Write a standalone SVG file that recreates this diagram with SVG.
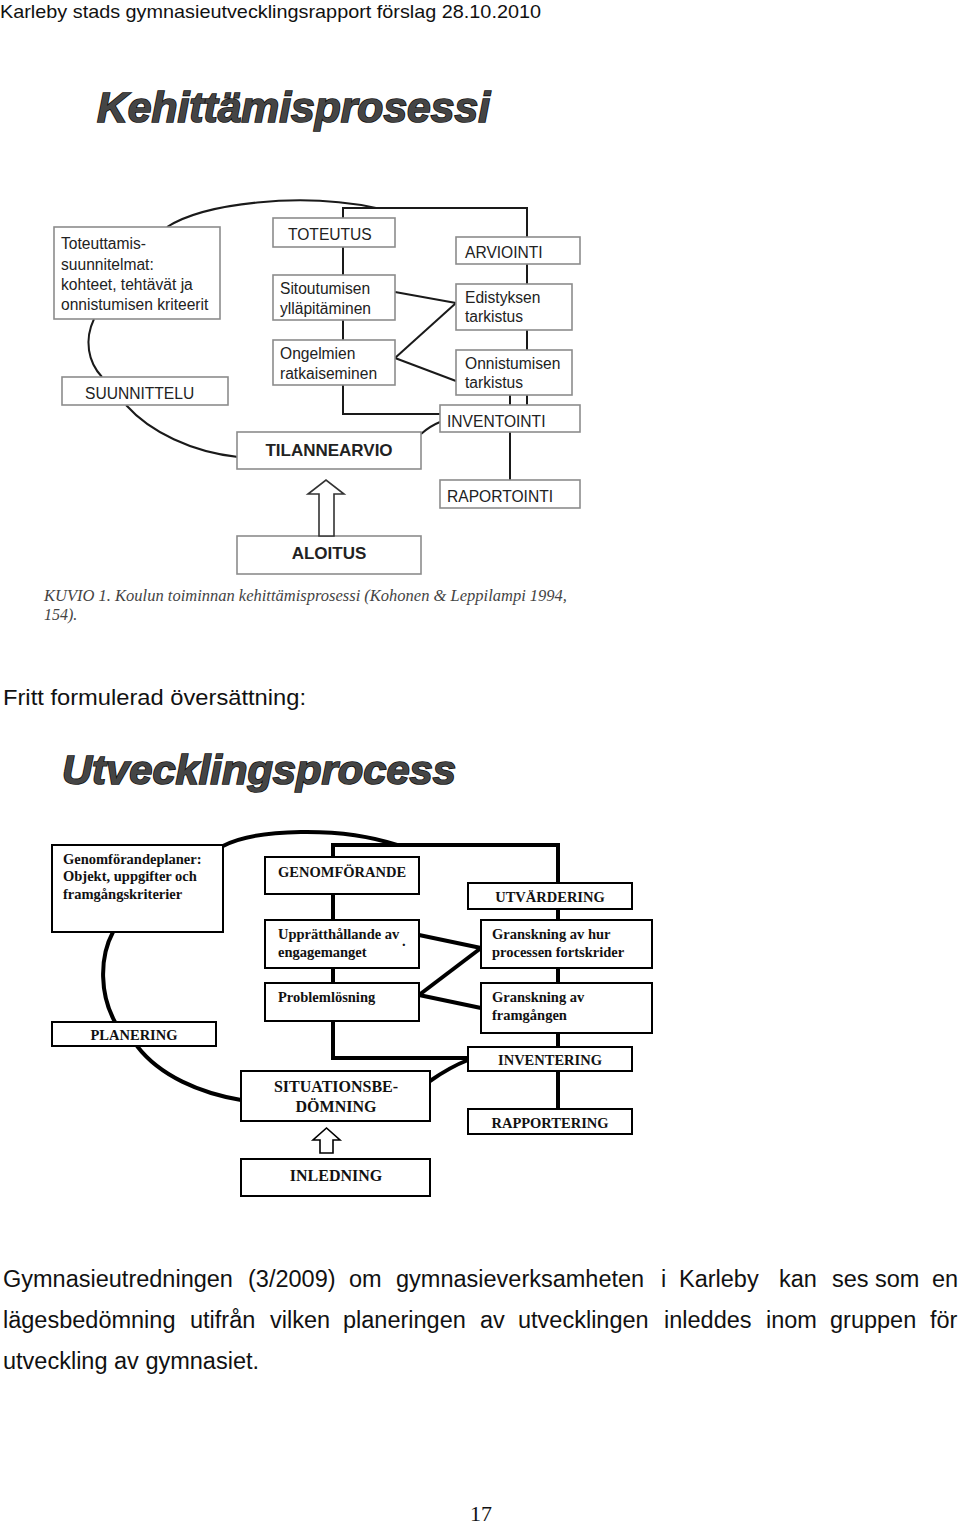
<svg xmlns="http://www.w3.org/2000/svg" width="960" height="1524" viewBox="0 0 960 1524">
<style>
.bg{fill:#fff}
.hdr{font-family:"Liberation Sans",Arial,sans-serif;fill:#111}
.ttl{font-family:"Liberation Sans",Arial,sans-serif;font-weight:bold;font-style:italic;fill:#454545;stroke:#111;stroke-width:1.6px;paint-order:stroke}
.tb{fill:#fff;stroke:#8c8c8c;stroke-width:1.6}
.tt{font-family:"Liberation Sans",Arial,sans-serif;font-size:15.6px;fill:#222}
.ttb{font-family:"Liberation Sans",Arial,sans-serif;font-size:17px;font-weight:bold;fill:#222}
.tl{fill:none;stroke:#1a1a1a;stroke-width:2}
.bb{fill:#fff;stroke:#000;stroke-width:2}
.bt{font-family:"Liberation Serif","Times New Roman",serif;font-weight:bold;font-size:14.5px;fill:#111}
.btl{font-family:"Liberation Serif","Times New Roman",serif;font-weight:bold;font-size:16px;fill:#111}
.bl{fill:none;stroke:#000;stroke-width:4}
.cap{font-family:"Liberation Serif","Times New Roman",serif;font-style:italic;font-size:16px;fill:#444}
.body{font-family:"Liberation Sans",Arial,sans-serif;font-size:23.5px;fill:#111}
</style>
<rect class="bg" x="0" y="0" width="960" height="1524"/>

<text class="hdr" x="0" y="18" font-size="19" textLength="541" lengthAdjust="spacingAndGlyphs">Karleby stads gymnasieutvecklingsrapport förslag 28.10.2010</text>
<text class="ttl" x="97" y="122" font-size="42" textLength="393" lengthAdjust="spacingAndGlyphs">Kehittämisprosessi</text>

<!-- Top diagram connectors -->
<g id="top-connectors">
  <path class="tl" d="M167,227 C205,203 300,192 376,208"/>
  <path class="tl" d="M343,218 L343,208 L527,208 L527,405"/>
  <path class="tl" d="M343,247 L343,414 L440,414"/>
  <path class="tl" d="M510,395 L510,480"/>
  <path class="tl" d="M94,319 C84,340 88,362 102,377"/>
  <path class="tl" d="M126,405 C150,432 192,452 238,457"/>
  <path class="tl" d="M421,434 Q430,426 440,422"/>
  <path class="tl" d="M395,292 L456,303"/>
  <path class="tl" d="M395,358 L456,303"/>
  <path class="tl" d="M395,358 L456,381"/>
</g>

<g id="t-plan"><rect class="tb" x="54" y="227" width="166" height="92"/>
  <text class="tt" x="61" y="249">Toteuttamis-</text>
  <text class="tt" x="61" y="270">suunnitelmat:</text>
  <text class="tt" x="61" y="290">kohteet, tehtävät ja</text>
  <text class="tt" x="61" y="310">onnistumisen kriteerit</text></g>
<g id="t-toteutus"><rect class="tb" x="273" y="218" width="122" height="29"/>
  <text class="tt" x="288" y="240" font-size="17">TOTEUTUS</text></g>
<g id="t-sitoutumisen"><rect class="tb" x="273" y="275" width="122" height="45"/>
  <text class="tt" x="280" y="294">Sitoutumisen</text>
  <text class="tt" x="280" y="314">ylläpitäminen</text></g>
<g id="t-ongelmien"><rect class="tb" x="273" y="340" width="122" height="45"/>
  <text class="tt" x="280" y="359">Ongelmien</text>
  <text class="tt" x="280" y="379">ratkaiseminen</text></g>
<g id="t-arviointi"><rect class="tb" x="456" y="237" width="124" height="27"/>
  <text class="tt" x="465" y="258" font-size="17">ARVIOINTI</text></g>
<g id="t-edistyksen"><rect class="tb" x="456" y="284" width="116" height="46"/>
  <text class="tt" x="465" y="303">Edistyksen</text>
  <text class="tt" x="465" y="322">tarkistus</text></g>
<g id="t-onnistumisen"><rect class="tb" x="456" y="350" width="116" height="45"/>
  <text class="tt" x="465" y="369">Onnistumisen</text>
  <text class="tt" x="465" y="388">tarkistus</text></g>
<g id="t-inventointi"><rect class="tb" x="440" y="405" width="140" height="27"/>
  <text class="tt" x="447" y="427" font-size="17">INVENTOINTI</text></g>
<g id="t-suunnittelu"><rect class="tb" x="62" y="377" width="166" height="28"/>
  <text class="tt" x="85" y="399" font-size="17">SUUNNITTELU</text></g>
<g id="t-tilannearvio"><rect class="tb" x="237" y="432" width="184" height="37"/>
  <text class="ttb" x="329" y="456" text-anchor="middle">TILANNEARVIO</text></g>
<g id="t-raportointi"><rect class="tb" x="440" y="480" width="140" height="28"/>
  <text class="tt" x="447" y="502" font-size="17">RAPORTOINTI</text></g>
<g id="t-aloitus"><rect class="tb" x="237" y="536" width="184" height="38"/>
  <text class="ttb" x="329" y="559" text-anchor="middle">ALOITUS</text></g>
<g id="t-arrow"><path d="M319,536 L319,494 L308,494 L326,480 L344,494 L334,494 L334,536 Z" fill="#fff" stroke="#333" stroke-width="1.6"/></g>

<text class="cap" x="44" y="601" textLength="523" lengthAdjust="spacingAndGlyphs">KUVIO 1.  Koulun toiminnan kehittämisprosessi (Kohonen &amp; Leppilampi 1994,</text>
<text class="cap" x="44" y="620">154).</text>

<text class="hdr" x="3" y="705" font-size="22" textLength="303" lengthAdjust="spacingAndGlyphs">Fritt formulerad översättning:</text>
<text class="ttl" x="62" y="784" font-size="40" textLength="394" lengthAdjust="spacingAndGlyphs">Utvecklingsprocess</text>

<!-- Bottom diagram connectors -->
<g id="bottom-connectors">
  <path class="bl" d="M223,846 C255,829 340,826 397,845"/>
  <path class="bl" d="M333,857 L333,845 L558,845 L558,1109"/>
  <path class="bl" d="M333,894 L333,1058 L468,1058"/>
  <path class="bl" d="M113,932 C99,958 100,995 115,1022"/>
  <path class="bl" d="M137,1046 C160,1076 200,1093 241,1100"/>
  <path class="bl" d="M430,1081 Q450,1067 468,1060"/>
  <path class="bl" d="M419,935 L481,948"/>
  <path class="bl" d="M419,995 L481,948"/>
  <path class="bl" d="M419,995 L481,1008"/>
</g>

<g id="b-plan"><rect class="bb" x="52" y="845" width="171" height="87"/>
  <text class="bt" x="63" y="864">Genomförandeplaner:</text>
  <text class="bt" x="63" y="881">Objekt, uppgifter och</text>
  <text class="bt" x="63" y="899">framgångskriterier</text></g>
<g id="b-genomforande"><rect class="bb" x="265" y="857" width="154" height="37"/>
  <text class="bt" x="278" y="877">GENOMFÖRANDE</text></g>
<g id="b-utvardering"><rect class="bb" x="468" y="883" width="164" height="26"/>
  <text class="bt" x="550" y="902" text-anchor="middle">UTVÄRDERING</text></g>
<g id="b-uppratthallande"><rect class="bb" x="265" y="920" width="154" height="48"/>
  <text class="bt" x="278" y="939">Upprätthållande av</text>
  <text class="bt" x="278" y="957">engagemanget</text>
  <text class="bt" x="402" y="946" font-size="10">.</text></g>
<g id="b-granskning-hur"><rect class="bb" x="481" y="920" width="171" height="48"/>
  <text class="bt" x="492" y="939">Granskning av hur</text>
  <text class="bt" x="492" y="957">processen fortskrider</text></g>
<g id="b-problemlosning"><rect class="bb" x="265" y="983" width="154" height="38"/>
  <text class="bt" x="278" y="1002">Problemlösning</text></g>
<g id="b-granskning-framgangen"><rect class="bb" x="481" y="983" width="171" height="50"/>
  <text class="bt" x="492" y="1002">Granskning av</text>
  <text class="bt" x="492" y="1020">framgången</text></g>
<g id="b-planering"><rect class="bb" x="52" y="1022" width="164" height="24"/>
  <text class="bt" x="134" y="1040" text-anchor="middle">PLANERING</text></g>
<g id="b-inventering"><rect class="bb" x="468" y="1047" width="164" height="24"/>
  <text class="bt" x="550" y="1065" text-anchor="middle">INVENTERING</text></g>
<g id="b-situationsbedomning"><rect class="bb" x="241" y="1071" width="189" height="50"/>
  <text class="btl" x="336" y="1092" text-anchor="middle">SITUATIONSBE-</text>
  <text class="btl" x="336" y="1112" text-anchor="middle">DÖMNING</text></g>
<g id="b-rapportering"><rect class="bb" x="468" y="1109" width="164" height="25"/>
  <text class="bt" x="550" y="1128" text-anchor="middle">RAPPORTERING</text></g>
<g id="b-inledning"><rect class="bb" x="241" y="1159" width="189" height="37"/>
  <text class="btl" x="336" y="1181" text-anchor="middle">INLEDNING</text></g>
<g id="b-arrow"><path d="M320,1153 L320,1140 L313,1140 L326.5,1128 L340,1140 L333,1140 L333,1153 Z" fill="#fff" stroke="#000" stroke-width="1.6"/></g>

<text class="body" y="1287"><tspan x="3">Gymnasieutredningen</tspan><tspan x="248">(3/2009)</tspan><tspan x="349">om</tspan><tspan x="396">gymnasieverksamheten</tspan><tspan x="661">i</tspan><tspan x="679">Karleby</tspan><tspan x="779">kan</tspan><tspan x="832">ses</tspan><tspan x="875">som</tspan><tspan x="932">en</tspan></text>
<text class="body" y="1328"><tspan x="3">lägesbedömning</tspan><tspan x="190">utifrån</tspan><tspan x="270">vilken</tspan><tspan x="343">planeringen</tspan><tspan x="480">av</tspan><tspan x="518">utvecklingen</tspan><tspan x="664">inleddes</tspan><tspan x="766">inom</tspan><tspan x="830">gruppen</tspan><tspan x="930">för</tspan></text>
<text class="body" x="3" y="1369">utveckling av gymnasiet.</text>

<text x="470" y="1521" font-family="Liberation Serif,'Times New Roman',serif" font-size="22" fill="#111">17</text>
</svg>
